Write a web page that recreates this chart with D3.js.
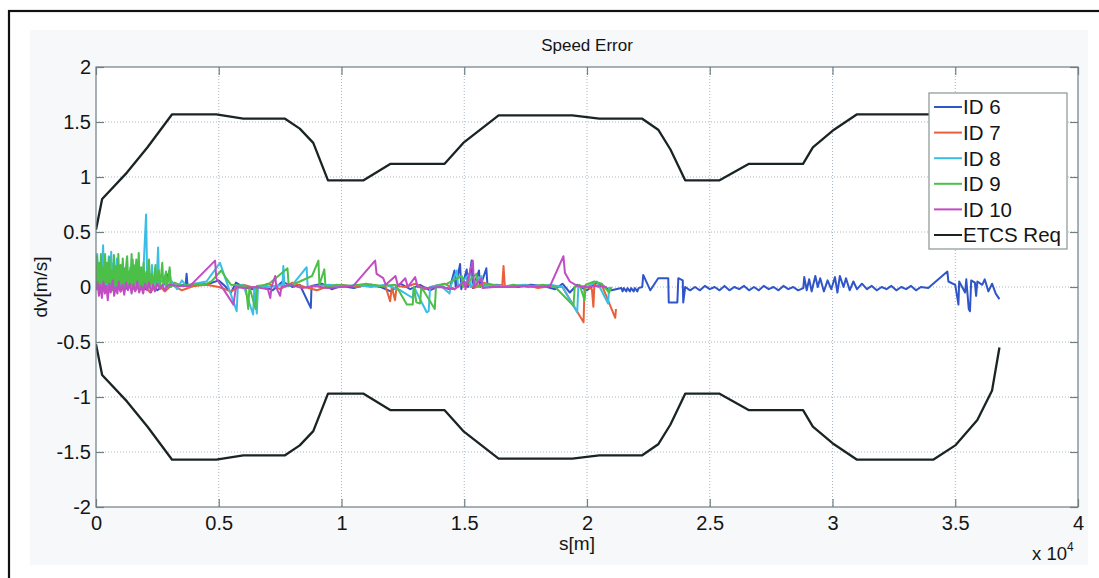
<!DOCTYPE html>
<html>
<head>
<meta charset="utf-8">
<script src="https://cdn.jsdelivr.net/npm/d3@7"></script>
<style>
  body { margin: 0; background: #fff; }
  svg { display: block; font-family: "Liberation Sans", Arial, sans-serif; }
</style>
</head>
<body>
<svg id="chart" width="1099" height="578"></svg>
<script>
"use strict";

// x in metres, dv in m/s
const xTicks = [0, 5000, 10000, 15000, 20000, 25000, 30000, 35000, 40000];
const yTicks = [-2, -1.5, -1, -0.5, 0, 0.5, 1, 1.5, 2];
const legendLabels = ["ID 6", "ID 7", "ID 8", "ID 9", "ID 10", "ETCS Req"];
const seriesColors = ["#2f55c8", "#e8603a", "#3cbde6", "#4cbf48", "#c24cc4", "#1a2424"];

// ETCS requirement envelope (upper half, the lower one is its mirror)
const etcsReq = [
  [0, 0.52], [250, 0.80], [1260, 1.04], [2100, 1.27], [3100, 1.57], [4900, 1.57],
  [6000, 1.53], [7700, 1.53], [8300, 1.44], [8850, 1.31], [9450, 0.97], [10900, 0.97],
  [12000, 1.12], [14200, 1.12], [14960, 1.31], [16400, 1.56], [19400, 1.56], [20500, 1.53],
  [22250, 1.53], [22900, 1.43], [23400, 1.25], [24000, 0.97], [25400, 0.97], [26600, 1.12],
  [28800, 1.12], [29200, 1.27], [30000, 1.42], [31000, 1.57], [34100, 1.57], [35000, 1.44],
  [35900, 1.21], [36500, 0.94], [36800, 0.55]
];

const id6 = [
  [0, 0.03], [150, -0.04], [300, 0.06], [450, -0.02], [600, 0.05], [800, -0.03], [1000, 0.04],
  [1200, -0.02], [1400, 0.06], [1600, -0.03], [1800, 0.04], [2000, -0.02], [2200, 0.05],
  [2500, -0.03], [2800, 0.03], [3000, 0.15], [3050, 0.02], [3300, 0.01], [3650, 0.02],
  [3690, 0.12], [3730, 0.01], [4200, 0.02], [4600, 0.03], [5000, 0.06], [5200, 0.02],
  [5500, -0.05], [5700, 0.04], [6000, 0.0], [6400, -0.02], [6800, 0.01], [7200, -0.03],
  [7600, 0.05], [8000, 0.0], [8300, 0.02], [8750, -0.19], [8780, 0.01], [9200, 0.03],
  [9600, -0.02], [10000, 0.01], [10500, -0.01], [11000, 0.02], [11600, 0.0], [12000, -0.04],
  [12400, 0.03], [12800, -0.02], [13200, 0.02], [13600, -0.03], [14000, 0.01], [14400, -0.02],
  [14600, 0.15], [14650, 0.0], [14830, 0.21], [14880, -0.02], [15100, 0.16], [15150, 0.0],
  [15300, 0.24], [15350, -0.01], [15600, 0.15], [15650, 0.0], [15900, 0.17], [15950, 0.0],
  [16300, 0.02], [16700, 0.01], [17200, 0.0], [17700, 0.02], [18200, 0.01], [18700, -0.02],
  [19000, 0.03], [19300, -0.05], [19600, 0.02], [20000, -0.03], [20400, 0.04], [20800, -0.01],
  [21000, -0.03], [21400, -0.01], [21450, -0.04], [21500, -0.01], [21600, -0.04], [21650, -0.01],
  [21750, -0.04], [21800, -0.01], [21900, -0.04], [21950, -0.01], [22050, -0.04], [22100, -0.01],
  [22250, 0.0], [22290, 0.11], [22580, -0.03], [22900, 0.08], [23310, 0.08], [23330, -0.14],
  [23680, -0.14], [23720, 0.08], [23900, 0.06], [23920, -0.14], [24000, 0.0], [24200, -0.03],
  [24400, 0.0], [24600, -0.03], [24800, 0.01], [25000, -0.02], [25200, 0.0], [25400, -0.03],
  [25600, 0.01], [25800, -0.03], [26000, 0.0], [26200, -0.02], [26400, 0.01], [26600, -0.03],
  [26800, 0.0], [27000, -0.03], [27200, 0.01], [27400, -0.02], [27600, 0.0], [27800, -0.03],
  [28000, 0.01], [28200, -0.02], [28400, 0.0], [28600, -0.03], [28810, -0.01], [28850, 0.09],
  [28950, -0.03], [29050, 0.07], [29150, -0.04], [29300, 0.1], [29400, 0.0], [29500, 0.08],
  [29650, -0.04], [29800, 0.06], [29950, -0.02], [30100, 0.09], [30200, -0.05], [30300, 0.1],
  [30450, 0.0], [30550, 0.08], [30700, -0.03], [30850, 0.05], [31000, -0.02], [31200, 0.03],
  [31400, -0.02], [31600, 0.01], [31800, -0.03], [32000, 0.0], [32200, -0.02], [32400, 0.01],
  [32600, -0.03], [32800, 0.0], [33000, -0.02], [33200, 0.01], [33400, -0.03], [33600, 0.0],
  [33900, -0.01], [34680, 0.14], [34720, 0.05], [35000, 0.02], [35130, -0.16], [35160, 0.05],
  [35400, -0.05], [35450, 0.07], [35550, -0.2], [35600, -0.22], [35650, 0.06], [35800, 0.04],
  [35850, -0.08], [35900, 0.05], [36100, 0.02], [36200, 0.07], [36350, -0.04], [36500, 0.03],
  [36650, -0.06], [36800, -0.11]
];

const id7 = [
  [0, 0.02], [200, -0.05], [400, 0.04], [600, -0.03], [800, 0.06], [1000, -0.04], [1300, 0.05],
  [1600, -0.03], [1900, 0.04], [2200, -0.05], [2500, 0.03], [2800, -0.04], [3100, 0.02],
  [3500, -0.03], [4000, 0.01], [4500, 0.02], [5000, 0.0], [5500, -0.04], [6000, 0.02],
  [6500, -0.01], [7000, 0.03], [7500, -0.02], [8000, 0.04], [8500, 0.0], [9000, -0.03],
  [9500, 0.01], [10000, 0.02], [10600, 0.0], [11200, 0.02], [11800, 0.0], [11980, -0.13],
  [12050, 0.0], [12180, -0.12], [12250, 0.01], [12600, 0.0], [13000, 0.03], [13400, -0.02],
  [13800, 0.01], [14200, 0.03], [14600, -0.02], [15000, 0.05], [15400, -0.01], [15800, 0.04],
  [16200, 0.0], [16550, 0.02], [16600, 0.19], [16650, 0.01], [17000, 0.0], [17500, 0.02],
  [18000, -0.01], [18500, 0.01], [19000, 0.0], [19860, -0.32], [19900, 0.01], [20000, 0.0],
  [20200, -0.02], [20260, -0.18], [20300, 0.02], [20500, 0.0], [20600, 0.02], [21150, -0.28],
  [21180, -0.2]
];

const id8 = [
  [0, 0.05], [50, 0.3], [100, 0.0], [160, 0.2], [200, -0.02], [290, 0.38], [330, 0.02],
  [400, 0.2], [440, -0.02], [520, 0.28], [560, 0.01], [620, 0.32], [660, 0.02], [720, 0.22],
  [760, -0.03], [850, 0.26], [890, 0.02], [980, 0.15], [1020, -0.02], [1100, 0.22],
  [1140, 0.0], [1260, 0.27], [1300, 0.0], [1400, 0.18], [1440, 0.01], [1500, 0.25],
  [1540, 0.02], [1620, 0.12], [1660, -0.01], [1700, 0.18], [1740, -0.02], [1850, 0.1],
  [1900, 0.0], [2040, 0.66], [2090, 0.01], [2180, 0.12], [2220, 0.0], [2280, 0.2],
  [2320, -0.01], [2420, 0.1], [2460, 0.0], [2530, 0.36], [2570, 0.02], [2800, 0.1],
  [2850, -0.01], [3100, 0.05], [3300, -0.02], [3500, 0.06], [3700, 0.0], [4000, 0.03],
  [4500, 0.05], [5050, 0.22], [5730, -0.22], [5780, 0.01], [6000, 0.02], [6400, -0.25],
  [6450, 0.0], [6550, -0.24], [6600, 0.01], [7000, 0.0], [7600, 0.02], [7630, 0.19],
  [7680, 0.0], [8000, 0.02], [8580, 0.18], [8620, 0.0], [9000, 0.01], [9500, 0.02],
  [10000, 0.0], [10600, 0.02], [11200, 0.0], [11800, 0.02], [12400, -0.03], [12900, -0.1],
  [12950, 0.0], [13470, -0.23], [13550, -0.22], [13610, 0.0], [14000, 0.02], [14400, -0.06],
  [14450, 0.01], [14700, 0.15], [14750, 0.0], [15200, 0.12], [15250, 0.0], [15700, 0.1],
  [15750, 0.0], [16200, 0.02], [16800, 0.0], [17400, 0.02], [18000, 0.0], [18500, 0.02],
  [19000, 0.0], [19600, -0.23], [19650, 0.01], [20000, 0.0], [20400, 0.05], [20860, -0.15],
  [20900, 0.0]
];

const id9 = [
  [0, 0.02], [40, 0.28], [80, 0.0], [120, 0.22], [160, -0.02], [200, 0.3], [240, 0.02],
  [290, 0.18], [330, -0.03], [370, 0.3], [410, 0.04], [460, 0.22], [500, -0.02], [550, 0.27],
  [590, 0.03], [640, 0.15], [680, -0.03], [730, 0.29], [770, 0.02], [820, 0.19], [860, -0.02],
  [910, 0.3], [950, 0.0], [1000, 0.2], [1040, 0.03], [1090, 0.26], [1130, -0.02], [1180, 0.17],
  [1220, 0.02], [1270, 0.28], [1310, -0.01], [1360, 0.14], [1400, 0.03], [1450, 0.3],
  [1490, -0.02], [1540, 0.2], [1580, 0.02], [1640, 0.25], [1680, -0.01], [1740, 0.31],
  [1780, 0.02], [1840, 0.18], [1880, -0.02], [1940, 0.22], [1980, 0.01], [2050, 0.14],
  [2100, -0.02], [2160, 0.25], [2200, 0.02], [2280, 0.12], [2330, -0.01], [2420, 0.2],
  [2460, 0.02], [2560, 0.15], [2600, -0.01], [2700, 0.22], [2740, 0.01], [2850, 0.14],
  [2900, -0.01], [3000, 0.18], [3050, 0.0], [3200, 0.04], [3500, 0.01], [4000, 0.03],
  [4400, 0.02], [4700, 0.05], [5100, 0.15], [5300, 0.08], [5500, 0.02], [6100, 0.01],
  [6200, -0.2], [6250, 0.0], [6500, -0.2], [6550, 0.01], [7000, 0.02], [7800, 0.17],
  [7850, 0.01], [8300, 0.05], [8800, 0.1], [9060, 0.24], [9100, 0.02], [9300, 0.16],
  [9350, 0.0], [9800, 0.02], [10400, 0.01], [11000, 0.03], [11600, 0.01], [12200, 0.02],
  [12660, -0.16], [12900, -0.16], [12950, 0.0], [13050, -0.14], [13200, -0.15], [13250, 0.0],
  [13800, -0.2], [13850, 0.01], [14300, 0.03], [14900, 0.1], [14950, 0.0], [15500, 0.12],
  [15550, 0.0], [16000, 0.03], [16500, 0.0], [17000, 0.02], [17600, 0.0], [18200, 0.02],
  [18700, 0.0], [19450, -0.17], [19500, 0.0], [19700, 0.02], [19900, -0.12], [19950, 0.02],
  [20300, 0.05], [20600, 0.03], [20900, -0.05], [21000, 0.0]
];

const id10 = [
  [0, -0.03], [60, 0.04], [120, -0.08], [180, 0.02], [240, -0.1], [300, 0.05], [360, -0.06],
  [420, 0.01], [480, -0.12], [540, 0.03], [600, -0.05], [680, 0.06], [740, -0.08], [800, 0.0],
  [870, -0.06], [930, 0.05], [1000, -0.04], [1080, 0.02], [1150, -0.07], [1220, 0.04],
  [1300, -0.03], [1380, 0.03], [1450, -0.06], [1530, 0.02], [1600, -0.04], [1680, 0.05],
  [1760, -0.05], [1840, 0.01], [1920, -0.06], [2000, 0.03], [2080, -0.03], [2160, 0.04],
  [2240, -0.05], [2320, 0.02], [2400, -0.04], [2500, 0.03], [2600, -0.02], [2700, 0.02],
  [2800, -0.03], [2900, 0.01], [3000, 0.02], [3400, 0.01], [3830, 0.01], [4850, 0.24],
  [4900, 0.08], [5600, -0.16], [5700, 0.0], [6000, -0.01], [6500, 0.0], [7000, -0.02],
  [7100, -0.1], [7150, 0.0], [7300, 0.1], [7350, -0.01], [7500, -0.08], [7550, 0.0],
  [7900, 0.02], [8400, -0.01], [8900, 0.01], [9400, -0.01], [10000, 0.0], [10480, 0.01],
  [11370, 0.24], [11430, 0.12], [11700, 0.08], [11800, 0.02], [12200, 0.1], [12300, 0.01],
  [12600, 0.08], [12700, 0.0], [13000, 0.09], [13100, 0.0], [13500, -0.01], [14000, 0.0],
  [14600, -0.02], [15000, 0.05], [15050, -0.02], [15350, 0.24], [15400, 0.0], [15700, 0.08],
  [15750, -0.01], [16200, 0.0], [16800, 0.0], [17400, 0.01], [18000, 0.0], [18500, 0.01],
  [19040, 0.28], [19100, 0.13], [19300, 0.05], [19600, 0.01], [20000, 0.0], [20400, 0.01],
  [20800, 0.0]
];

const seriesData = [id6, id7, id8, id9, id10];

const svg = d3.select("#chart");
const m = {left: 96, right: 1078, top: 67, bottom: 507};
const font = "Liberation Sans, Arial, sans-serif";

// outer frame and figure background
svg.append("rect").attr("x", 30).attr("y", 30).attr("width", 1058).attr("height", 535).attr("fill", "#f6f8fa");
svg.append("rect").attr("x", 9).attr("y", 11).attr("width", 1100).attr("height", 580)
  .attr("fill", "none").attr("stroke", "#111").attr("stroke-width", 2.2);

svg.append("rect").attr("x", m.left).attr("y", m.top)
  .attr("width", m.right - m.left).attr("height", m.bottom - m.top).attr("fill", "#fff");

const x = d3.scaleLinear().domain([0, 40000]).range([m.left, m.right]);
const y = d3.scaleLinear().domain([-2, 2]).range([m.bottom, m.top]);

// dotted grid
const grid = svg.append("g").attr("stroke", "#a9b7c3").attr("stroke-width", 1).attr("stroke-dasharray", "1,2");
grid.selectAll(".gx").data(xTicks.slice(1, -1)).enter().append("line")
  .attr("x1", d => x(d)).attr("x2", d => x(d)).attr("y1", m.top).attr("y2", m.bottom);
grid.selectAll(".gy").data(yTicks.slice(1, -1)).enter().append("line")
  .attr("y1", d => y(d)).attr("y2", d => y(d)).attr("x1", m.left).attr("x2", m.right);

// data
svg.append("clipPath").attr("id", "clip").append("rect")
  .attr("x", m.left).attr("y", m.top).attr("width", m.right - m.left).attr("height", m.bottom - m.top);
const plot = svg.append("g").attr("clip-path", "url(#clip)");
const line = d3.line().x(d => x(d[0])).y(d => y(d[1]));

seriesData.forEach((s, i) => {
  plot.append("path").datum(s).attr("d", line)
    .attr("fill", "none").attr("stroke", seriesColors[i]).attr("stroke-width", 2)
    .attr("stroke-linejoin", "round");
});

[1, -1].forEach(sign => {
  plot.append("path").datum(etcsReq.map(d => [d[0], sign * d[1]])).attr("d", line)
    .attr("fill", "none").attr("stroke", seriesColors[5]).attr("stroke-width", 2.3)
    .attr("stroke-linejoin", "round");
});

// axes with inward ticks, MATLAB style box
const axisColor = "#6f7f84";
function styleAxis(g, labels) {
  g.select(".domain").remove();
  g.selectAll(".tick line").attr("stroke", axisColor).attr("stroke-width", 1.2);
  g.selectAll(".tick text").attr("fill", labels ? "#151515" : "none")
    .style("font-size", "20px").style("font-family", font);
}
const fmt = d => String(d);
svg.append("g").attr("transform", `translate(0,${m.bottom})`)
  .call(d3.axisBottom(x).tickValues(xTicks).tickFormat(d => fmt(d / 10000)).tickSize(-8).tickPadding(9))
  .call(g => styleAxis(g, true));
svg.append("g").attr("transform", `translate(0,${m.top})`)
  .call(d3.axisTop(x).tickValues(xTicks).tickSize(-8).tickFormat(""))
  .call(g => styleAxis(g, false));
svg.append("g").attr("transform", `translate(${m.left},0)`)
  .call(d3.axisLeft(y).tickValues(yTicks).tickFormat(fmt).tickSize(-8).tickPadding(5))
  .call(g => styleAxis(g, true));
svg.append("g").attr("transform", `translate(${m.right},0)`)
  .call(d3.axisRight(y).tickValues(yTicks).tickSize(-8).tickFormat(""))
  .call(g => styleAxis(g, false));

svg.append("rect").attr("x", m.left).attr("y", m.top)
  .attr("width", m.right - m.left).attr("height", m.bottom - m.top)
  .attr("fill", "none").attr("stroke", axisColor).attr("stroke-width", 1.2);

// texts
svg.append("text").attr("x", (m.left + m.right) / 2).attr("y", 51).attr("text-anchor", "middle")
  .style("font-size", "17px").attr("fill", "#151515").text("Speed Error");
svg.append("text").attr("transform", `translate(47,${(m.top + m.bottom) / 2}) rotate(-90)`)
  .attr("text-anchor", "middle").style("font-size", "19px").attr("fill", "#151515").text("dv[m/s]");
svg.append("text").attr("x", 577).attr("y", 550).attr("text-anchor", "middle")
  .style("font-size", "19px").attr("fill", "#151515").text("s[m]");
const exp = svg.append("text").attr("x", 1032).attr("y", 560).style("font-size", "18.5px").attr("fill", "#151515");
exp.append("tspan").text("x 10");
exp.append("tspan").attr("dy", -9).style("font-size", "12px").text("4");

// legend
const lg = svg.append("g");
lg.append("rect").attr("x", 929).attr("y", 93).attr("width", 138).attr("height", 156)
  .attr("fill", "#fff").attr("stroke", "#8a9494").attr("stroke-width", 1.2);
const items = lg.selectAll(".item").data(legendLabels).enter().append("g")
  .attr("transform", (d, i) => `translate(0,${107 + i * 25.6})`);
items.append("line").attr("x1", 934).attr("x2", 962).attr("stroke", (d, i) => seriesColors[i]).attr("stroke-width", 2);
items.append("text").attr("x", 963).attr("dy", "0.36em").style("font-size", "20.5px").attr("fill", "#151515").text(d => d);
</script>
</body>
</html>
